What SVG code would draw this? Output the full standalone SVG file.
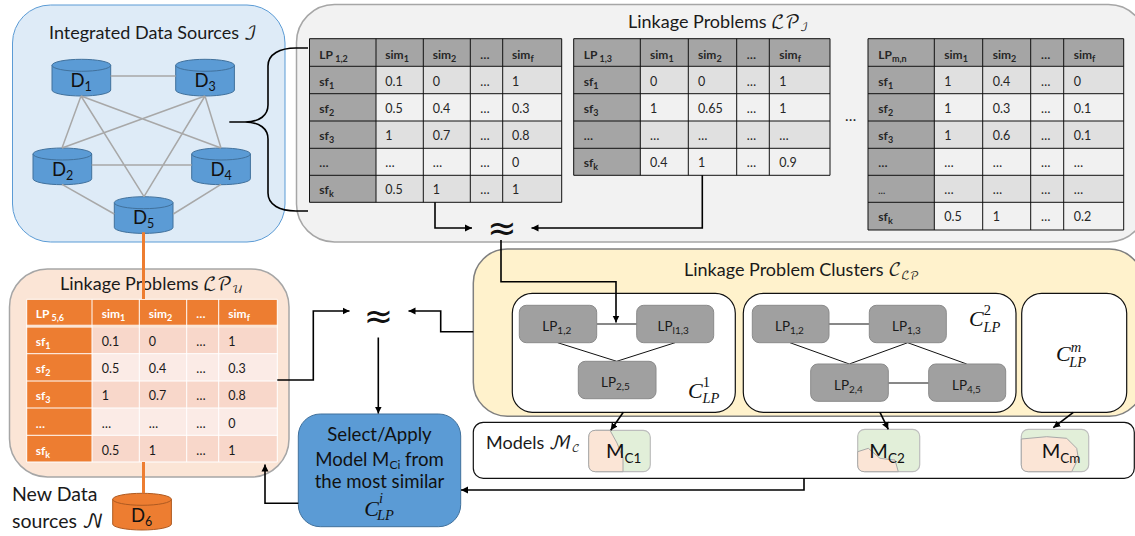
<svg xmlns="http://www.w3.org/2000/svg" width="1135" height="536" viewBox="0 0 1135 536">
<style>
text{font-family:"Lato","DejaVu Math TeX Gyre","DejaVu Sans",sans-serif;fill:#1a1a1a}
.t{font-size:18px}
.h{font-size:12px;font-weight:700;fill:#262626}
.c{font-size:12.5px;fill:#262626}
.o{font-weight:700;font-size:12px;fill:#fff}
.ow{font-size:12.5px;fill:#1a1a1a}
.s{font-size:9px}
.d{font-size:18.5px;fill:#111}
.ds{font-size:12.5px}
.n{font-size:13.5px;fill:#1a1a1a}
.ns{font-size:10px}
.m{font-size:20px;fill:#111}
.ms{font-size:13.5px}
.b{font-size:18.6px;text-anchor:middle;fill:#111}
.ci{font-family:"Liberation Serif",serif;font-style:italic;font-size:22px;fill:#111}
.cs{font-size:14.5px}
.up{font-style:normal;font-size:14.5px}
.ap{font-family:"DejaVu Sans",sans-serif;font-size:35px;text-anchor:middle;fill:#111}
.cyl{fill:#5b9bd5;stroke:#41719c;stroke-width:1}
.cyo{fill:#ed7d31;stroke:#ae5a21;stroke-width:1}
.lp{fill:#a0a0a0;stroke:#8a8a8a;stroke-width:1}
.cl{fill:#fff;stroke:#111;stroke-width:1.2}
.mod{fill:#e2efd9;stroke:#bdbdbd;stroke-width:1.2}
.org{fill:#fbe5d6;stroke:#a8a8a8;stroke-width:1}
.gl{stroke:#a8a8a8;stroke-width:1.5;fill:none}
.ol{stroke:#ed7d31;stroke-width:3;fill:none}
.bl{stroke:#000;stroke-width:1.6;fill:none}
.th{stroke:#111;stroke-width:1;fill:none}
.ar{stroke:#000;stroke-width:1.6;fill:none;marker-end:url(#a)}
.g1{fill:#e0e0e0}.g2{fill:#f1f1f1}.gh{fill:#a5a5a5}
.o1{fill:#f8d7ca}.o2{fill:#fbebe6}.oh{fill:#ed7d31}
</style>
<defs>
<marker id="a" markerUnits="userSpaceOnUse" markerWidth="8" markerHeight="8" refX="7" refY="4" orient="auto"><path d="M0,0.5 L7,4 L0,7.5 Z" fill="#000"/></marker>
<g id="cyl"><path d="M0,6 A29.35,6 0 0 1 58.7,6 V30.7 A29.35,6 0 0 1 0,30.7 Z"/><path d="M0,6 A29.35,6 0 0 0 58.7,6"/></g>
</defs>

<g id="integrated-sources">
<rect x="12.5" y="5" width="272.5" height="237" rx="38" fill="#deebf7" stroke="#5b9bd5" stroke-width="1"/>
<text class="t" x="49" y="39">Integrated  Data Sources ℐ</text>
</g>
<g id="linkage-problems-i">
<rect x="296.5" y="4.5" width="850" height="237.5" rx="38" fill="#f2f2f2" stroke="#a6a6a6" stroke-width="1.5"/>
<text class="t" x="628" y="28">Linkage Problems ℒ𝒫<tspan font-size="11" dy="3">ℐ</tspan></text>
</g>

<g id="D1"><use href="#cyl" x="52" y="59.3" class="cyl"/><text class="d" x="70.5" y="87">D<tspan class="ds" dy="4">1</tspan></text></g>
<g id="D3"><use href="#cyl" x="175.7" y="59.3" class="cyl"/><text class="d" x="194.5" y="87">D<tspan class="ds" dy="4">3</tspan></text></g>
<g id="D2"><use href="#cyl" x="33" y="148" class="cyl"/><text class="d" x="52" y="176">D<tspan class="ds" dy="4">2</tspan></text></g>
<g id="D4"><use href="#cyl" x="191.7" y="148" class="cyl"/><text class="d" x="210.5" y="176">D<tspan class="ds" dy="4">4</tspan></text></g>
<g id="D5"><use href="#cyl" x="114.3" y="196.7" class="cyl"/><text class="d" x="133" y="224">D<tspan class="ds" dy="4">5</tspan></text></g>

<g id="table-1-2">
<rect x="309.5" y="38.7" width="252.2" height="27.6" class="gh"/>
<rect x="376" y="66.3" width="185.7" height="27.4" class="g1"/>
<rect x="376" y="93.7" width="185.7" height="27.3" class="g2"/>
<rect x="376" y="121" width="185.7" height="27.3" class="g1"/>
<rect x="376" y="148.3" width="185.7" height="27" class="g2"/>
<rect x="376" y="175.3" width="185.7" height="27" class="g1"/>
<rect x="309.5" y="66.3" width="66.5" height="136" class="gh"/>
<path class="th" d="M309.5,38.7H561.7V202.3H309.5ZM309.5,66.3H561.7M309.5,93.7H561.7M309.5,121H561.7M309.5,148.3H561.7M309.5,175.3H561.7M376,38.7V202.3M423.3,38.7V202.3M470.3,38.7V202.3M502.7,38.7V202.3"/>
<text class="h" x="319.3" y="59">LP<tspan class="s" dy="2.5"> 1,2</tspan></text>
<text class="h" x="385.3" y="59">sim<tspan class="s" dy="2.5">1</tspan></text>
<text class="h" x="432.7" y="59">sim<tspan class="s" dy="2.5">2</tspan></text>
<text class="h" x="480.3" y="59">…</text>
<text class="h" x="512" y="59">sim<tspan class="s" dy="2.5">f</tspan></text>
<text class="h" x="319.3" y="86">sf<tspan class="s" dy="2.5">1</tspan></text><text class="c" x="385.3" y="86">0.1</text><text class="c" x="432.7" y="86">0</text><text class="c" x="480.3" y="86">…</text><text class="c" x="512" y="86">1</text>
<text class="h" x="319.3" y="113">sf<tspan class="s" dy="2.5">2</tspan></text><text class="c" x="385.3" y="113">0.5</text><text class="c" x="432.7" y="113">0.4</text><text class="c" x="480.3" y="113">…</text><text class="c" x="512" y="113">0.3</text>
<text class="h" x="319.3" y="140">sf<tspan class="s" dy="2.5">3</tspan></text><text class="c" x="385.3" y="140">1</text><text class="c" x="432.7" y="140">0.7</text><text class="c" x="480.3" y="140">…</text><text class="c" x="512" y="140">0.8</text>
<text class="h" x="319.3" y="167">…</text><text class="c" x="385.3" y="167">…</text><text class="c" x="432.7" y="167">…</text><text class="c" x="480.3" y="167">…</text><text class="c" x="512" y="167">0</text>
<text class="h" x="319.3" y="194">sf<tspan class="s" dy="2.5">k</tspan></text><text class="c" x="385.3" y="194">0.5</text><text class="c" x="432.7" y="194">1</text><text class="c" x="480.3" y="194">…</text><text class="c" x="512" y="194">1</text>
</g>

<g id="table-1-3">
<rect x="573.7" y="38.7" width="256.3" height="27.6" class="gh"/>
<rect x="640.3" y="66.3" width="189.7" height="27.4" class="g1"/>
<rect x="640.3" y="93.7" width="189.7" height="27.3" class="g2"/>
<rect x="640.3" y="121" width="189.7" height="27.3" class="g1"/>
<rect x="640.3" y="148.3" width="189.7" height="27" class="g2"/>
<rect x="573.7" y="66.3" width="66.6" height="109" class="gh"/>
<path class="th" d="M573.7,38.7H830V175.3H573.7ZM573.7,66.3H830M573.7,93.7H830M573.7,121H830M573.7,148.3H830M640.3,38.7V175.3M688.3,38.7V175.3M736.7,38.7V175.3M769.3,38.7V175.3"/>
<text class="h" x="583.7" y="59">LP<tspan class="s" dy="2.5"> 1,3</tspan></text>
<text class="h" x="650" y="59">sim<tspan class="s" dy="2.5">1</tspan></text>
<text class="h" x="698" y="59">sim<tspan class="s" dy="2.5">2</tspan></text>
<text class="h" x="746.7" y="59">…</text>
<text class="h" x="779.3" y="59">sim<tspan class="s" dy="2.5">f</tspan></text>
<text class="h" x="583.7" y="86">sf<tspan class="s" dy="2.5">1</tspan></text><text class="c" x="650" y="86">0</text><text class="c" x="698" y="86">0</text><text class="c" x="746.7" y="86">…</text><text class="c" x="779.3" y="86">1</text>
<text class="h" x="583.7" y="113">sf<tspan class="s" dy="2.5">3</tspan></text><text class="c" x="650" y="113">1</text><text class="c" x="698" y="113">0.65</text><text class="c" x="746.7" y="113">…</text><text class="c" x="779.3" y="113">1</text>
<text class="h" x="583.7" y="140">…</text><text class="c" x="650" y="140">…</text><text class="c" x="698" y="140">…</text><text class="c" x="746.7" y="140">…</text><text class="c" x="779.3" y="140">…</text>
<text class="h" x="583.7" y="167">sf<tspan class="s" dy="2.5">k</tspan></text><text class="c" x="650" y="167">0.4</text><text class="c" x="698" y="167">1</text><text class="c" x="746.7" y="167">…</text><text class="c" x="779.3" y="167">0.9</text>
</g>

<text id="table-ellipsis" class="c" x="845" y="121" style="font-size:15px">…</text>

<g id="table-m-n">
<rect x="868" y="38.7" width="255.7" height="27.6" class="gh"/>
<rect x="934.3" y="66.3" width="189.4" height="27.4" class="g1"/>
<rect x="934.3" y="93.7" width="189.4" height="27.3" class="g2"/>
<rect x="934.3" y="121" width="189.4" height="27.3" class="g1"/>
<rect x="934.3" y="148.3" width="189.4" height="27" class="g2"/>
<rect x="934.3" y="175.3" width="189.4" height="27" class="g1"/>
<rect x="934.3" y="202.3" width="189.4" height="27.7" class="g2"/>
<rect x="868" y="66.3" width="66.3" height="163.7" class="gh"/>
<path class="th" d="M868,38.7H1123.7V230H868ZM868,66.3H1123.7M868,93.7H1123.7M868,121H1123.7M868,148.3H1123.7M868,175.3H1123.7M868,202.3H1123.7M934.3,38.7V230M982.7,38.7V230M1030.7,38.7V230M1063.7,38.7V230"/>
<text class="h" x="878.3" y="59">LP<tspan class="s" dy="2.5">m,n</tspan></text>
<text class="h" x="944.3" y="59">sim<tspan class="s" dy="2.5">1</tspan></text>
<text class="h" x="992.7" y="59">sim<tspan class="s" dy="2.5">2</tspan></text>
<text class="h" x="1041" y="59">…</text>
<text class="h" x="1073.7" y="59">sim<tspan class="s" dy="2.5">f</tspan></text>
<text class="h" x="878.3" y="86">sf<tspan class="s" dy="2.5">1</tspan></text><text class="c" x="944.3" y="86">1</text><text class="c" x="992.7" y="86">0.4</text><text class="c" x="1041" y="86">…</text><text class="c" x="1073.7" y="86">0</text>
<text class="h" x="878.3" y="113">sf<tspan class="s" dy="2.5">2</tspan></text><text class="c" x="944.3" y="113">1</text><text class="c" x="992.7" y="113">0.3</text><text class="c" x="1041" y="113">…</text><text class="c" x="1073.7" y="113">0.1</text>
<text class="h" x="878.3" y="140">sf<tspan class="s" dy="2.5">3</tspan></text><text class="c" x="944.3" y="140">1</text><text class="c" x="992.7" y="140">0.6</text><text class="c" x="1041" y="140">…</text><text class="c" x="1073.7" y="140">0.1</text>
<text class="h" x="878.3" y="167">…</text><text class="c" x="944.3" y="167">…</text><text class="c" x="992.7" y="167">…</text><text class="c" x="1041" y="167">…</text><text class="c" x="1073.7" y="167">…</text>
<text class="h" x="878.3" y="194" style="font-size:9px">…</text><text class="c" x="944.3" y="194">…</text><text class="c" x="992.7" y="194">…</text><text class="c" x="1041" y="194">…</text><text class="c" x="1073.7" y="194">…</text>
<text class="h" x="878.3" y="221">sf<tspan class="s" dy="2.5">k</tspan></text><text class="c" x="944.3" y="221">0.5</text><text class="c" x="992.7" y="221">1</text><text class="c" x="1041" y="221">…</text><text class="c" x="1073.7" y="221">0.2</text>
</g>

<g id="linkage-problems-u">
<rect x="9.5" y="269" width="279.5" height="208" rx="38" fill="#fbe5d6" stroke="#a6a6a6" stroke-width="1.5"/>
<text class="t" x="60" y="290">Linkage Problems ℒ𝒫<tspan font-size="11" dy="3">𝒰</tspan></text>
<rect x="26.7" y="299.3" width="250.6" height="25.4" class="oh"/>
<rect x="26.7" y="327.7" width="65.3" height="134.3" class="oh"/>
<rect x="92" y="327.7" width="185.3" height="26" class="o1"/>
<rect x="92" y="353.7" width="185.3" height="27.3" class="o2"/>
<rect x="92" y="381" width="185.3" height="27" class="o1"/>
<rect x="92" y="408" width="185.3" height="27.3" class="o2"/>
<rect x="92" y="435.3" width="185.3" height="26.7" class="o1"/>
<path fill="none" stroke="#fff" stroke-width="1" d="M26.7,353.7H277.3M26.7,381H277.3M26.7,408H277.3M26.7,435.3H277.3M92,299.3V462M139.3,299.3V462M186.7,299.3V462M218.7,299.3V462"/>
<path fill="none" stroke="#fff" stroke-width="1" d="M26.7,299.3H277.3V462H26.7Z"/>
<text class="o" x="35.7" y="318">LP<tspan class="s" dy="2.5"> 5,6</tspan></text>
<text class="o" x="101.7" y="318">sim<tspan class="s" dy="2.5">1</tspan></text>
<text class="o" x="148.7" y="318">sim<tspan class="s" dy="2.5">2</tspan></text>
<text class="o" x="196.3" y="318">…</text>
<text class="o" x="228.3" y="318">sim<tspan class="s" dy="2.5">f</tspan></text>
<text class="o" x="35.7" y="346">sf<tspan class="s" dy="2.5">1</tspan></text><text class="ow" x="101.7" y="346">0.1</text><text class="ow" x="148.7" y="346">0</text><text class="ow" x="196.3" y="346">…</text><text class="ow" x="228.3" y="346">1</text>
<text class="o" x="35.7" y="373">sf<tspan class="s" dy="2.5">2</tspan></text><text class="ow" x="101.7" y="373">0.5</text><text class="ow" x="148.7" y="373">0.4</text><text class="ow" x="196.3" y="373">…</text><text class="ow" x="228.3" y="373">0.3</text>
<text class="o" x="35.7" y="400">sf<tspan class="s" dy="2.5">3</tspan></text><text class="ow" x="101.7" y="400">1</text><text class="ow" x="148.7" y="400">0.7</text><text class="ow" x="196.3" y="400">…</text><text class="ow" x="228.3" y="400">0.8</text>
<text class="o" x="35.7" y="428">…</text><text class="ow" x="101.7" y="428">…</text><text class="ow" x="148.7" y="428">…</text><text class="ow" x="196.3" y="428">…</text><text class="ow" x="228.3" y="428">0</text>
<text class="o" x="35.7" y="455">sf<tspan class="s" dy="2.5">k</tspan></text><text class="ow" x="101.7" y="455">0.5</text><text class="ow" x="148.7" y="455">1</text><text class="ow" x="196.3" y="455">…</text><text class="ow" x="228.3" y="455">1</text>
</g>

<g id="new-sources">
<text class="t" x="12" y="500.5" style="font-size:19.5px">New Data</text>
<text class="t" x="12" y="527.5" style="font-size:19.5px">sources 𝒩</text>
</g>
<g id="D6"><use href="#cyl" x="112.7" y="493.3" class="cyo"/><text class="d" x="131" y="522">D<tspan class="ds" dy="4">6</tspan></text></g>

<g id="clusters">
<rect x="473.3" y="249" width="670" height="167.3" rx="34" fill="#fff2cc" stroke="#7f7f7f" stroke-width="1.5"/>
<text class="t" x="684" y="275.5">Linkage Problem Clusters 𝒞<tspan font-size="11" dy="3">ℒ𝒫</tspan></text>
</g>
<g id="cluster-1">
<rect x="512.3" y="293.3" width="223" height="119" rx="20" class="cl"/>
<path class="th" d="M597,324H637M557.7,342.7L616.7,361.3L675,342.7"/>
<rect x="519.3" y="305.3" width="77.4" height="37.4" rx="7" class="lp"/>
<text class="n" x="542.3" y="331">LP<tspan class="ns" dy="3">1,2</tspan></text>
<rect x="636.7" y="305.3" width="77" height="37.4" rx="7" class="lp"/>
<text class="n" x="657.5" y="331">LP<tspan class="ns" dy="3">l1,3</tspan></text>
<rect x="578.3" y="361.3" width="77.7" height="37.4" rx="7" class="lp"/>
<text class="n" x="601" y="387">LP<tspan class="ns" dy="3">2,5</tspan></text>
<text class="ci" x="688" y="398">C<tspan class="up" dy="-11">1</tspan><tspan class="cs" dx="-7.5" dy="15.5">LP</tspan></text>
</g>
<g id="cluster-2">
<rect x="743.3" y="293.3" width="272.7" height="119" rx="20" class="cl"/>
<path class="th" d="M829,324H869M790,342.7L849.3,364L907.7,342.7L966.7,364M888,383H929"/>
<rect x="752.3" y="305.3" width="76.7" height="37.4" rx="7" class="lp"/>
<text class="n" x="775" y="331">LP<tspan class="ns" dy="3">1,2</tspan></text>
<rect x="869.3" y="305.3" width="77" height="37.4" rx="7" class="lp"/>
<text class="n" x="892" y="331">LP<tspan class="ns" dy="3">1,3</tspan></text>
<rect x="810.7" y="364" width="77.6" height="37.3" rx="7" class="lp"/>
<text class="n" x="834" y="390">LP<tspan class="ns" dy="3">2,4</tspan></text>
<rect x="928.7" y="364" width="77" height="37.3" rx="7" class="lp"/>
<text class="n" x="952" y="390">LP<tspan class="ns" dy="3">4,5</tspan></text>
<text class="ci" x="969" y="326">C<tspan class="up" dy="-11">2</tspan><tspan class="cs" dx="-7.5" dy="16.5">LP</tspan></text>
</g>
<g id="cluster-m">
<rect x="1021.7" y="293.3" width="105" height="119" rx="20" class="cl"/>
<text class="ci" x="1056" y="361">C<tspan class="cs" dy="-9">m</tspan><tspan class="cs" dx="-12" dy="14.5">LP</tspan></text>
</g>

<g id="models">
<rect x="473.3" y="422.3" width="661" height="56" rx="10" fill="#fff" stroke="#111" stroke-width="1.2"/>
<text class="t" x="486" y="449">Models ℳ<tspan font-size="11" dy="3">𝒞</tspan></text>
</g>
<g id="model-c1">
<rect x="588.7" y="430.3" width="61.6" height="41.4" rx="7" class="mod"/>
<path class="org" d="M595.7,430.3H610L617,443L623,458V471.7H595.7Q588.7,471.7 588.7,464.7V437.3Q588.7,430.3 595.7,430.3Z"/>
<text class="m" x="606" y="458.3">M<tspan class="ms" dy="5">C1</tspan></text>
</g>
<g id="model-c2">
<rect x="857.7" y="429.3" width="62" height="42.4" rx="7" class="mod"/>
<path class="org" d="M857.7,451.7L868.3,448.3L880,458.3L895,460L898.3,471.7H864.7Q857.7,471.7 857.7,464.7Z"/>
<text class="m" x="869.3" y="458.3">M<tspan class="ms" dy="5">C2</tspan></text>
</g>
<g id="model-cm">
<rect x="1021.3" y="429.3" width="67.4" height="42.4" rx="7" class="mod"/>
<path class="org" d="M1021.3,439L1046.7,436.7L1066.7,438.3L1076.7,448.3L1078.3,458.3L1071.7,471.7H1028.3Q1021.3,471.7 1021.3,464.7Z"/>
<text class="m" x="1041.7" y="458.3">M<tspan class="ms" dy="5">Cm</tspan></text>
</g>

<g id="select-model">
<rect x="298.3" y="414" width="162.4" height="112.7" rx="22" fill="#5b9bd5" stroke="#41719c" stroke-width="1"/>
<text class="b" x="379.5" y="441">Select/Apply</text>
<text class="b" x="379.5" y="466">Model M<tspan font-size="12" dy="3">Ci</tspan><tspan dy="-3"> from</tspan></text>
<text class="b" x="379.5" y="488">the most similar</text>
<text class="ci" x="364.3" y="516">C<tspan class="cs" dy="-13">i</tspan><tspan class="cs" dx="-6" dy="17">LP</tspan></text>
</g>

<text id="approx-top" class="ap" x="502" y="240">≈</text>
<text id="approx-bottom" class="ap" x="378.3" y="328">≈</text>

<g id="connectors">
<path class="gl" d="M110.7,76H175.7M81,96L62,148M81,96L221,148M81,96L144,196.7M205,96L62,148M205,96L221,148M205,96L144,196.7M91.7,165H191.7M62,184.3L114.3,214M221,184.3L173.3,214"/>
<path class="ol" d="M143.5,232.3V299M143.5,462V493.3"/>
<path class="bl" d="M229.3,122H245C260,122 268,115 268,105V66C268,54 280,48 296,48H308M245,122C260,122 268,129 268,139V193C268,205 280,211 296,211H308"/>
<path class="ar" d="M435,202.3V228H472"/>
<path class="ar" d="M702.3,175.3V228H531.5"/>
<path class="ar" d="M501,240V281.7H616V322.5"/>
<path class="ar" d="M277.3,380H313.3V311H349.5"/>
<path class="ar" d="M473.3,331.7H440.7V311H408.5"/>
<path class="ar" d="M378.3,337.5V413.5"/>
<path class="ar" d="M804,478.3V490H461"/>
<path class="ar" d="M298.3,503.3H265V464.5"/>
<path class="ar" d="M623.3,412.3L610.7,430.3"/>
<path class="ar" d="M880,412.3L888.3,429.3"/>
<path class="ar" d="M1073.3,412.3L1053.3,427.7"/>
</g>
</svg>
